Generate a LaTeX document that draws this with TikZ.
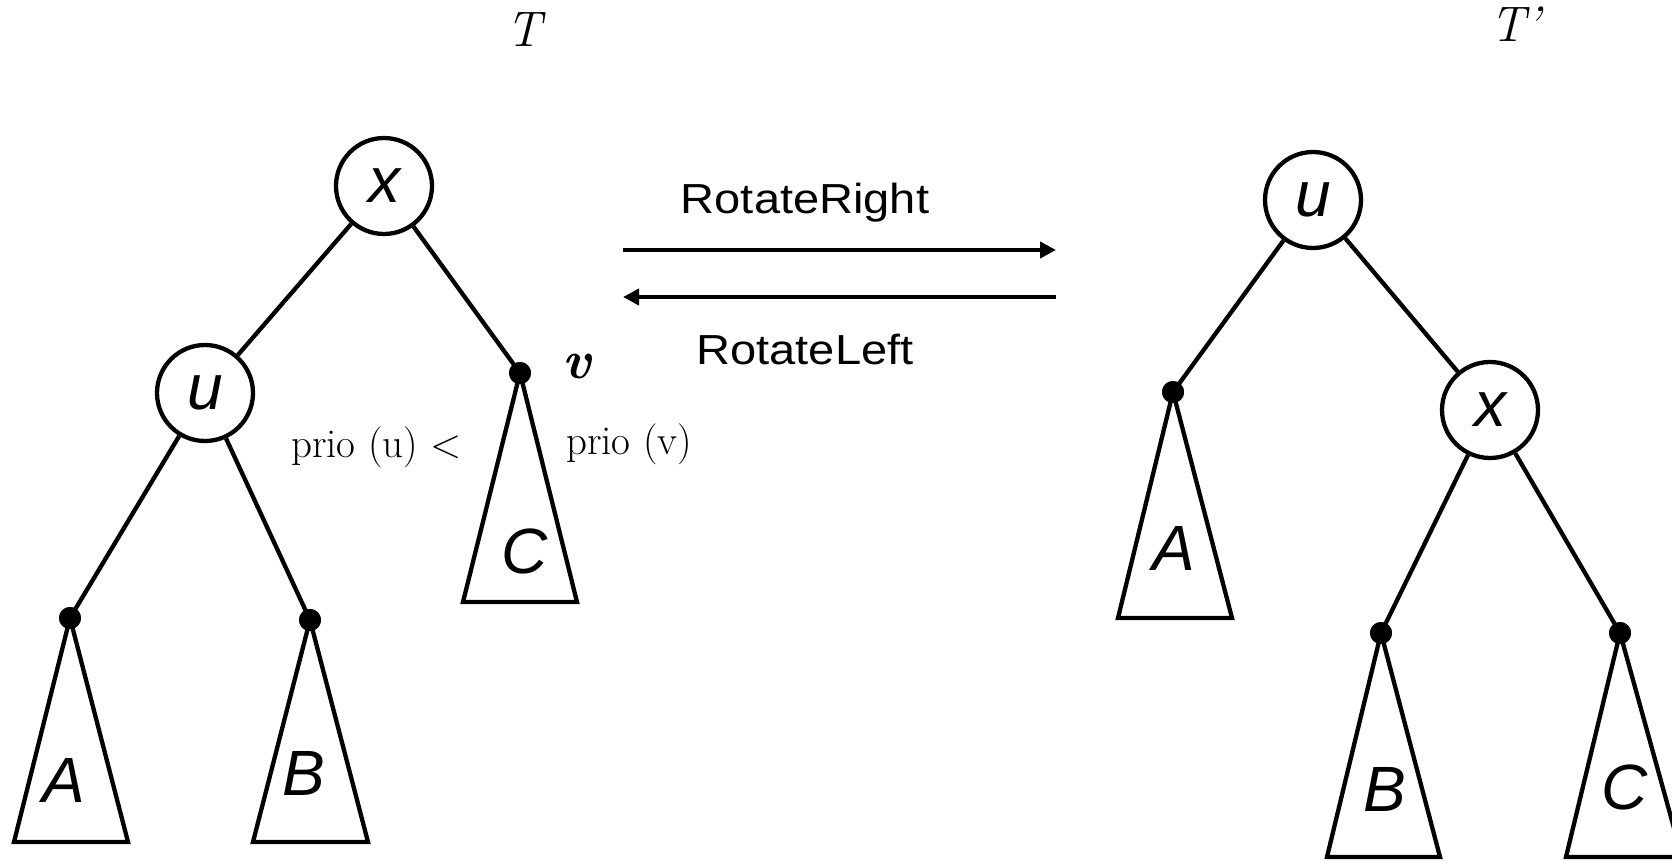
\documentclass[tikz,border=0pt]{standalone}
\usepackage{fontspec}
\newfontfamily\arial{Liberation Sans}
\usetikzlibrary{arrows.meta}
\begin{document}
\begin{tikzpicture}[x=1pt,y=-1pt,
  tn/.style={circle,draw,line width=4.3pt,minimum size=96pt,inner sep=0pt,font=\fontsize{64}{64}\arial\itshape},
  leaf/.style={circle,fill,minimum size=22pt,inner sep=0pt},
  edge/.style={line width=4.3pt},
  tri/.style={line width=4.3pt,line join=miter},
  lab/.style={font=\fontsize{64}{64}\arial\itshape},
  op/.style={font=\fontsize{42}{42}\arial,xscale=1.12},
  arr/.style={line width=4.3pt,-{Triangle[length=16pt,width=16pt]}},
  hand/.style={font=\fontsize{41}{41}\selectfont},
  ttl/.style={font=\fontsize{50}{50}\selectfont\itshape}]
\useasboundingbox (0,0) rectangle (1672,861);
\clip (0,0) rectangle (1672,861);

% titles
\node[ttl] (T1) at (524,30) {T};
\node[ttl] (T2) at (1515,24) {T’};

% ----- left tree -----
\node[tn] (x1) at (384,186) {x};
\node[tn] (u1) at (205,393) {u};
\node[leaf] (v1) at (520,373) {};
\node[leaf] (a1) at (70,618) {};
\node[leaf] (b1) at (310,620) {};

\draw[tri] (v1.center) -- (463,602) -- (577,602) -- cycle;
\draw[tri] (a1.center) -- (14,842) -- (128,842) -- cycle;
\draw[tri] (b1.center) -- (253,842) -- (368,842) -- cycle;
\node[leaf] at (v1) {};
\node[leaf] at (a1) {};
\node[leaf] at (b1) {};

\draw[edge] (x1) -- (u1);
\draw[edge] (x1) -- (v1.center);
\draw[edge] (u1) -- (a1.center);
\draw[edge] (u1) -- (b1.center);

\node[lab] (lC1) at (525,551) {C};
\node[lab] (lA1) at (64,780) {A};
\node[lab] (lB1) at (304,773) {B};

\node[font=\fontsize{54}{54}\selectfont\bfseries\itshape] (vlab) at (577,366) {v};
\node[hand,anchor=base west,inner sep=0pt] (p1) at (291,457) {prio (u) <};
\node[hand,anchor=base west,inner sep=0pt] (p2) at (566,454) {prio (v)};

% ----- arrows -----
\coordinate (r1) at (623,250);
\coordinate (r2) at (1056,250);
\coordinate (l1) at (1056,297);
\coordinate (l2) at (623,297);
\draw[arr] (r1) -- (r2);
\draw[arr] (l1) -- (l2);
\node[op,anchor=base] (rr) at (805,213) {RotateRight};
\node[op,anchor=base] (rl) at (805,364) {RotateLeft};

% ----- right tree -----
\node[tn] (u2) at (1313,200) {u};
\node[tn] (x2) at (1490,410) {x};
\node[leaf] (a2) at (1173,392) {};
\node[leaf] (b2) at (1381,633) {};
\node[leaf] (c2) at (1620,633) {};

\draw[tri] (a2.center) -- (1118,618) -- (1232,618) -- cycle;
\draw[tri] (b2.center) -- (1327,857) -- (1440,857) -- cycle;
\draw[tri] (c2.center) -- (1566,857) -- (1682,857) -- cycle;
\node[leaf] at (a2) {};
\node[leaf] at (b2) {};
\node[leaf] at (c2) {};

\draw[edge] (u2) -- (a2.center);
\draw[edge] (u2) -- (x2);
\draw[edge] (x2) -- (b2.center);
\draw[edge] (x2) -- (c2.center);

\node[lab] (lA2) at (1174,548) {A};
\node[lab] (lB2) at (1385,789) {B};
\node[lab] (lC2) at (1625,787) {C};
\end{tikzpicture}
\end{document}
